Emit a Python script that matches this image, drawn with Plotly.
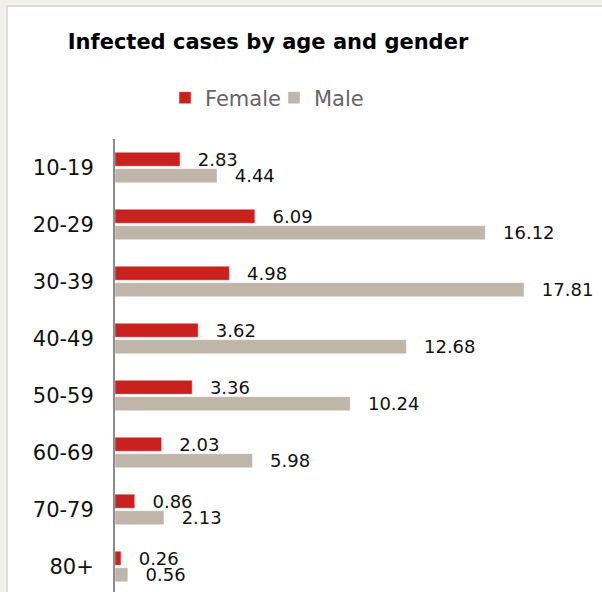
import plotly.graph_objects as go

age_groups = ["10-19", "20-29", "30-39", "40-49", "50-59", "60-69", "70-79", "80+"]
female = [2.83, 6.09, 4.98, 3.62, 3.36, 2.03, 0.86, 0.26]
male = [4.44, 16.12, 17.81, 12.68, 10.24, 5.98, 2.13, 0.56]

FONT = "DejaVu Sans"
W, H = 602, 592
L, R, T, B = 115, 12, 139, 0
pw, ph = W - L - R, H - T - B


def px_x(p):
    return (p - L) / pw


def px_y(p):
    return (H - B - p) / ph


fig = go.Figure()
for name, vals, color in [("Female", female, "#c9211e"), ("Male", male, "#bfb5a8")]:
    fig.add_trace(go.Bar(
        name=name, y=age_groups, x=vals, orientation="h",
        marker=dict(color=color, line=dict(color="rgba(255,255,255,0.45)", width=1)),
        text=[f"\u2002 {v:.2f}" for v in vals],
        textposition="outside", constraintext="none", cliponaxis=False,
        textfont=dict(family=FONT, size=18, color="#111111"),
        hoverinfo="skip",
    ))

fig.add_shape(type="rect", xref="paper", yref="paper",
              x0=px_x(7), x1=px_x(640), y0=px_y(640), y1=px_y(6),
              fillcolor="white", line=dict(color="#dcdcdc", width=2), layer="below")

fig.update_layout(
    width=W, height=H,
    margin=dict(l=L, r=R, t=T, b=B, pad=0),
    paper_bgcolor="#f1f0ec", plot_bgcolor="white",
    barmode="group", bargap=0.42, bargroupgap=0.15,
    showlegend=True,
    title=dict(text="<b>Infected cases by age and gender</b>", x=268 / W, xanchor="center",
               y=1 - 42 / H, yanchor="middle",
               font=dict(family=FONT, size=21, color="#000000")),
    legend=dict(orientation="h", x=px_x(274), xanchor="center", y=px_y(98), yanchor="middle",
                font=dict(family=FONT, size=21, color="#666666"), itemwidth=30,
                entrywidth=64, entrywidthmode="pixels",
                bgcolor="rgba(0,0,0,0)"),
    xaxis=dict(range=[0, (W - R - L) / 22.97], visible=False, showgrid=False, zeroline=False),
    yaxis=dict(range=[-0.5 + ph / 57.0, -0.5], showline=True, linecolor="#8c8c8c", linewidth=2,
               showgrid=False, zeroline=False, ticks="", ticklabelstandoff=15,
               tickfont=dict(family=FONT, size=21, color="#111111")),
)

fig.write_html("out.html")
